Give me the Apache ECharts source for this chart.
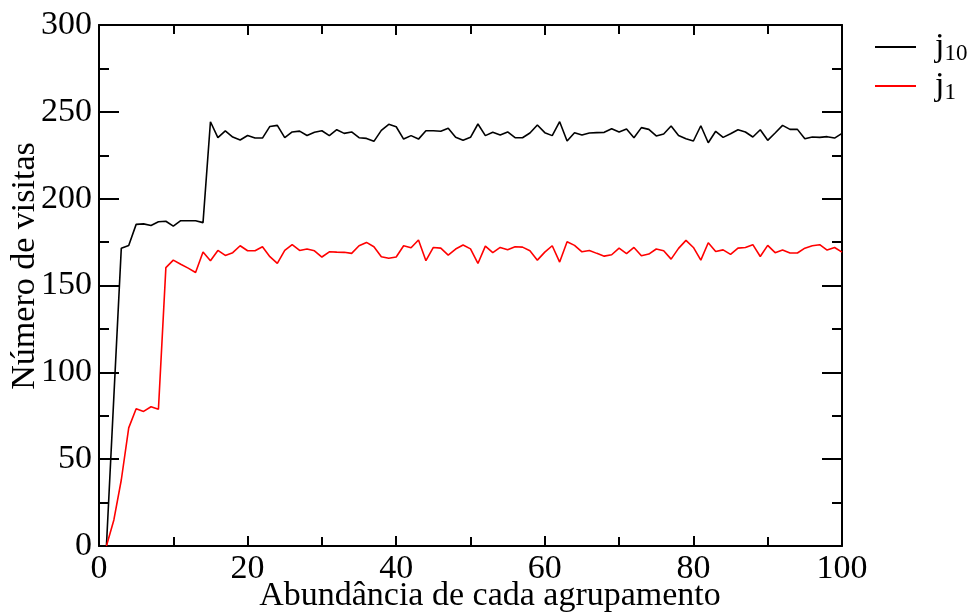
<!DOCTYPE html>
<html>
<head>
<meta charset="utf-8">
<script src="https://cdn.jsdelivr.net/npm/echarts@6/dist/echarts.min.js"></script>
<style>
  html, body { margin: 0; padding: 0; background: #fff; }
  #chart { width: 973px; height: 615px; }
</style>
</head>
<body>
<div id="chart"></div>
<script>
// Abundance of each cluster (x) and number of visits for j10 and j1
const abundancia = [
  1, 2, 3, 4, 5, 6, 7, 8, 9, 10, 11, 12, 13, 14, 15, 16, 17, 18, 19, 20,
  21, 22, 23, 24, 25, 26, 27, 28, 29, 30, 31, 32, 33, 34, 35, 36, 37, 38, 39, 40,
  41, 42, 43, 44, 45, 46, 47, 48, 49, 50, 51, 52, 53, 54, 55, 56, 57, 58, 59, 60,
  61, 62, 63, 64, 65, 66, 67, 68, 69, 70, 71, 72, 73, 74, 75, 76, 77, 78, 79, 80,
  81, 82, 83, 84, 85, 86, 87, 88, 89, 90, 91, 92, 93, 94, 95, 96, 97, 98, 99, 100
];

const visitasJ10 = [
  0, 86, 171.4, 173, 185.2, 185.5, 184.6, 186.7, 187, 184.2,
  187.3, 187.3, 187.3, 186.2, 244.3, 235.1, 239, 235.5, 233.8, 236.4,
  234.9, 234.9, 241.6, 242.2, 235.1, 238.4, 238.9, 236.4, 238.2, 239.1,
  236.3, 239.7, 237.6, 238.4, 235.1, 234.7, 233.0, 239.3, 242.8, 241.4,
  234.3, 236.3, 234.3, 239.1, 239.1, 238.8, 240.5, 235.3, 233.6, 235.3,
  243.0, 236.3, 238.2, 236.6, 238.4, 235.1, 235.1, 237.8, 242.4, 238.0,
  236.3, 244.3, 233.2, 238.0, 236.6, 237.8, 238.0, 238.2, 240.3, 238.4,
  240.1, 235.1, 240.9, 239.9, 236.1, 237.2, 241.8, 236.4, 234.5, 233.2,
  242.0, 232.2, 238.8, 235.3, 237.4, 239.7, 238.4, 235.5, 239.7, 233.6,
  237.8, 242.2, 239.9, 239.9, 234.5, 235.5, 235.3, 235.7, 234.9, 237.6
];

const visitasJ1 = [
  0, 15, 38, 68, 79, 77.5, 80.2, 78.7, 160.3, 164.6,
  162.2, 160, 157.5, 169.3, 164.2, 170.2, 167.3, 168.9, 172.9, 170.0,
  170.0, 172.3, 166.6, 162.7, 170.2, 173.5, 170.2, 171.0, 170.0, 166.4,
  169.4, 169.2, 169.1, 168.5, 172.9, 174.8, 172.3, 166.6, 165.7, 166.4,
  172.9, 171.7, 176.2, 164.3, 171.9, 171.5, 167.5, 171.0, 173.3, 171.1,
  162.7, 172.7, 168.9, 171.9, 170.6, 172.3, 172.1, 170.0, 164.6, 169.2,
  172.9, 163.5, 175.2, 173.1, 169.4, 170.2, 168.5, 166.9, 167.7, 171.5,
  168.3, 171.9, 167.1, 168.1, 171.0, 170.0, 165.2, 171.4, 176.0, 171.9,
  164.6, 174.6, 169.6, 170.5, 167.9, 171.5, 171.9, 173.5, 166.7, 173.1,
  168.9, 170.4, 168.7, 168.7, 171.5, 172.9, 173.5, 170.4, 171.9, 169.2
];

const xTicks = { min: 0, max: 100, interval: 20 };
const yTicks = { min: 0, max: 300, interval: 50 };

const serif = '"Liberation Serif", "DejaVu Serif", serif';
const fontPx = 34;

function pairs(xs, ys) {
  return xs.map((x, i) => [x, ys[i]]);
}

const axisLine = { show: true, onZero: false, lineStyle: { color: '#000', width: 2 } };

function xAxisDef(pos, showLabels) {
  return {
    type: 'value', position: pos,
    min: xTicks.min, max: xTicks.max, interval: xTicks.interval,
    axisLine: axisLine,
    axisTick: { show: true, inside: true, length: 10, lineStyle: { color: '#000', width: 2 } },
    minorTick: { show: true, splitNumber: 2, length: 9, lineStyle: { color: '#000', width: 2 } },
    splitLine: { show: false },
    axisLabel: { show: showLabels, margin: 6, color: '#000', fontFamily: serif, fontSize: fontPx }
  };
}

function yAxisDef(pos, showLabels) {
  return {
    type: 'value', position: pos,
    min: yTicks.min, max: yTicks.max, interval: yTicks.interval,
    axisLine: axisLine,
    axisTick: { show: true, inside: true, length: 20, lineStyle: { color: '#000', width: 2 } },
    minorTick: { show: true, splitNumber: 2, length: 10, lineStyle: { color: '#000', width: 2 } },
    splitLine: { show: false },
    axisLabel: { show: showLabels, margin: 7, color: '#000', fontFamily: serif, fontSize: fontPx }
  };
}

const legendNames = { j10: '{m|j}{s|10}', j1: '{m|j}{s|1}' };

const chart = echarts.init(document.getElementById('chart'), null, { renderer: 'canvas' });

chart.setOption({
  animation: false,
  backgroundColor: '#fff',
  grid: { left: 99, right: 131, top: 25, bottom: 69, containLabel: false },
  xAxis: [xAxisDef('bottom', true), xAxisDef('top', false)],
  yAxis: [yAxisDef('left', true), yAxisDef('right', false)],
  legend: {
    orient: 'vertical',
    left: 875,
    top: 29,
    padding: 0,
    itemWidth: 41,
    itemHeight: 2,
    itemGap: 3,
    icon: 'rect',
    formatter: name => legendNames[name],
    textStyle: {
      color: '#000',
      fontFamily: serif,
      padding: [0, 0, 0, 14],
      rich: {
        m: { fontSize: fontPx, fontFamily: serif, color: '#000', lineHeight: 36 },
        s: { fontSize: 23, fontFamily: serif, color: '#000', lineHeight: 36, padding: [13, 0, 0, 0] }
      }
    },
    data: ['j10', 'j1']
  },
  graphic: [
    {
      type: 'text', x: 490, y: 596,
      style: {
        text: 'Abundância de cada agrupamento', x: 0, y: 0,
        font: fontPx + 'px ' + serif, fill: '#000',
        textAlign: 'center', textVerticalAlign: 'middle'
      }
    },
    {
      type: 'text', x: 25, y: 266, rotation: Math.PI / 2,
      style: {
        text: 'Número de visitas', x: 0, y: 0,
        font: fontPx + 'px ' + serif, fill: '#000',
        textAlign: 'center', textVerticalAlign: 'middle'
      }
    }
  ],
  series: [
    {
      name: 'j10', type: 'line', xAxisIndex: 0, yAxisIndex: 0,
      data: pairs(abundancia, visitasJ10),
      showSymbol: false, symbol: 'none',
      lineStyle: { color: '#000', width: 1.6 },
      itemStyle: { color: '#000' }
    },
    {
      name: 'j1', type: 'line', xAxisIndex: 0, yAxisIndex: 0,
      data: pairs(abundancia, visitasJ1),
      showSymbol: false, symbol: 'none',
      lineStyle: { color: '#ff0000', width: 1.6 },
      itemStyle: { color: '#ff0000' }
    }
  ]
});
</script>
</body>
</html>
